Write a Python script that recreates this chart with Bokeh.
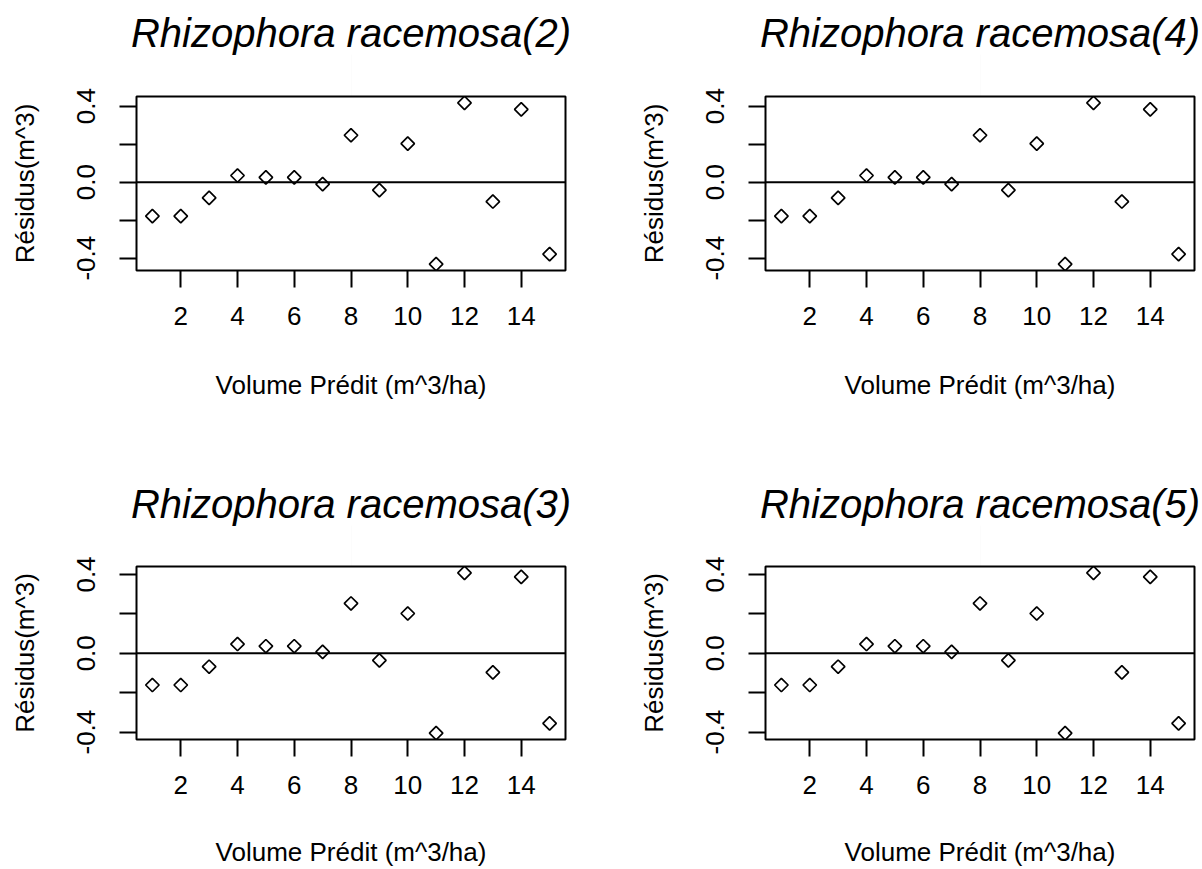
from bokeh.plotting import figure
from bokeh.models import Range1d, FixedTicker, CustomJSTickFormatter, Span, LinearAxis
from bokeh.layouts import column, row
from bokeh.embed import file_html
from bokeh.resources import INLINE

# ---- data ----
volume = list(range(1, 16))
res_2 = [-0.179, -0.179, -0.083, 0.035, 0.025, 0.025, -0.010, 0.247, -0.042, 0.203, -0.431, 0.417, -0.102, 0.383, -0.379]
res_4 = [-0.179, -0.179, -0.083, 0.035, 0.025, 0.025, -0.010, 0.247, -0.042, 0.203, -0.431, 0.417, -0.102, 0.383, -0.379]
res_3 = [-0.161, -0.161, -0.068, 0.047, 0.036, 0.036, 0.007, 0.253, -0.036, 0.202, -0.405, 0.408, -0.097, 0.388, -0.356]
res_5 = [-0.161, -0.161, -0.068, 0.047, 0.036, 0.036, 0.007, 0.253, -0.036, 0.202, -0.405, 0.408, -0.097, 0.388, -0.356]
titles = ["Rhizophora racemosa(2)", "Rhizophora racemosa(4)",
          "Rhizophora racemosa(3)", "Rhizophora racemosa(5)"]
x_ticks = [2, 4, 6, 8, 10, 12, 14]
y_ticks = [-0.4, -0.2, 0.0, 0.2, 0.4]
y_labelled = [-0.4, 0.0, 0.4]
x_label = "Volume Prédit (m^3/ha)"
y_label = "Résidus(m^3)"

FONT = "Liberation Sans"


def pad_range(vals):
    lo, hi = min(vals), max(vals)
    r = hi - lo
    return lo - 0.04 * r, hi + 0.04 * r


def make_panel(title, res, width, height, left, right, top, bottom,
               title_gap, xlab_standoff):
    xlo, xhi = pad_range(volume)
    ylo, yhi = pad_range(res)
    p = figure(width=width, height=height,
               x_range=Range1d(xlo, xhi), y_range=Range1d(ylo, yhi),
               output_backend="svg", toolbar_location=None,
               min_border_left=left, min_border_right=right,
               min_border_top=top, min_border_bottom=bottom)
    p.background_fill_color = "white"
    p.border_fill_color = "white"
    p.grid.visible = False
    p.outline_line_color = "black"
    p.outline_line_width = 2

    xax = p.below[0]
    yax = p.left[0]

    # invisible spacer between the frame and the title (R-style top margin)
    spacer = LinearAxis(ticker=FixedTicker(ticks=[(xlo + xhi) / 2]),
                        major_tick_in=0, major_tick_out=title_gap,
                        major_tick_line_color="black", major_tick_line_alpha=0.01,
                        minor_tick_in=0, minor_tick_out=0, minor_tick_line_color=None,
                        axis_line_color=None, major_label_standoff=0,
                        major_label_text_font_size="0px",
                        major_label_text_color=None)
    p.add_layout(spacer, "above")

    p.title.text = title
    p.title.align = "center"
    p.title.vertical_align = "bottom"
    p.title.standoff = 0
    p.title.text_font = FONT
    p.title.text_font_style = "italic"
    p.title.text_font_size = "40px"
    p.title.text_color = "black"

    for ax in (xax, yax):
        ax.axis_line_color = None
        ax.major_tick_in = 0
        ax.major_tick_out = 17
        ax.major_tick_line_width = 2
        ax.major_tick_line_color = "black"
        ax.minor_tick_line_color = None
        ax.major_label_text_font = FONT
        ax.major_label_text_font_size = "26px"
        ax.major_label_text_color = "black"
        ax.axis_label_text_font = FONT
        ax.axis_label_text_font_style = "normal"
        ax.axis_label_text_font_size = "26px"
        ax.axis_label_text_color = "black"

    xax.ticker = FixedTicker(ticks=x_ticks)
    xax.major_label_standoff = 19
    xax.axis_label = x_label
    xax.axis_label_standoff = xlab_standoff

    yax.ticker = FixedTicker(ticks=y_ticks)
    yax.formatter = CustomJSTickFormatter(
        args=dict(show=y_labelled),
        code="for (const v of show) { if (Math.abs(tick - v) < 1e-9) return tick.toFixed(1) } return ''")
    yax.major_label_orientation = "vertical"
    yax.major_label_standoff = 24
    yax.axis_label = y_label
    yax.axis_label_standoff = 35

    p.add_layout(Span(location=0, dimension="width", line_color="black", line_width=2))
    p.scatter(volume, res, marker="square", angle=0.785398, size=9.5,
              fill_color=None, line_color="black", line_width=1.7)
    return p


p1 = make_panel(titles[0], res_2, 601, 472, 136, 36, 96, 202, 42, 42)
p2 = make_panel(titles[1], res_4, 601, 472, 164, 8, 96, 202, 42, 42)
p3 = make_panel(titles[2], res_3, 601, 397, 136, 36, 94, 129, 41, 40)
p4 = make_panel(titles[3], res_5, 601, 397, 164, 8, 94, 129, 41, 40)

layout = column(row(p1, p2), row(p3, p4))
open("out.html", "w").write(file_html(layout, INLINE))
